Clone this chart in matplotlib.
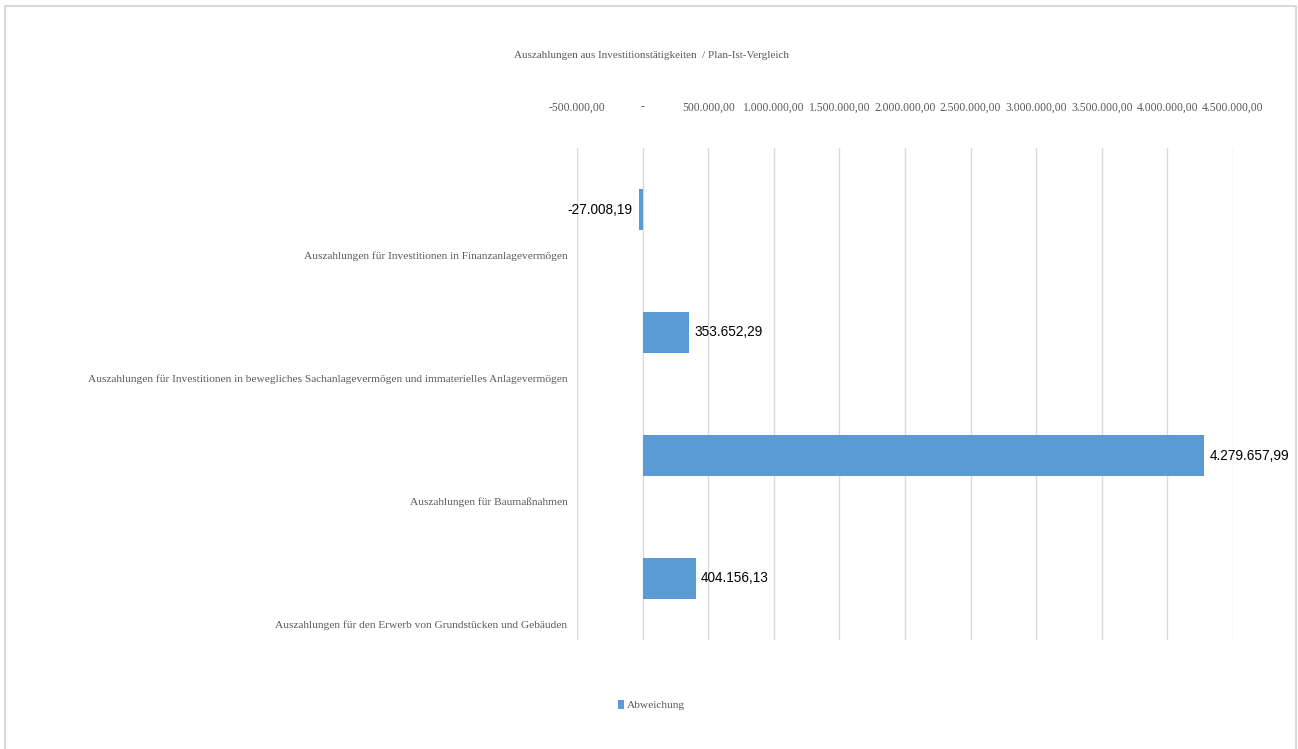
import matplotlib
matplotlib.use("Agg")
import matplotlib.pyplot as plt
from matplotlib.patches import Rectangle
from matplotlib.ticker import FuncFormatter

categories = [
    "Auszahlungen für Investitionen in Finanzanlagevermögen",
    "Auszahlungen für Investitionen in bewegliches Sachanlagevermögen und immaterielles Anlagevermögen",
    "Auszahlungen für Baumaßnahmen",
    "Auszahlungen für den Erwerb von Grundstücken und Gebäuden",
]
abweichung = [-27008.19, 353652.29, 4279657.99, 404156.13]
x_ticks = [-500000, 0, 500000, 1000000, 1500000, 2000000, 2500000, 3000000, 3500000, 4000000, 4500000]

title = "Auszahlungen aus Investitionstätigkeiten  / Plan-Ist-Vergleich"
serif = ["Liberation Serif", "DejaVu Serif"]
sans = ["Liberation Sans", "DejaVu Sans"]
grey = "#595959"
bar_color = "#5B9BD5"


def de_num(v):
    s = f"{abs(v):,.2f}".replace(",", "X").replace(".", ",").replace("X", ".")
    return ("-" if v < 0 else "") + s


def tick_fmt(v, pos):
    if v == 0:
        return "-"
    return de_num(v)


fig = plt.figure(figsize=(12.98, 7.49), dpi=100)
ax = fig.add_axes([577 / 1298, 1 - 640 / 749, (1233 - 577) / 1298, (640 - 148) / 749])

ypos = list(range(len(categories)))
ax.barh(ypos, abweichung, height=0.34, color=bar_color, zorder=3, label="Abweichung")
ax.set_xlim(-500000, 4500000)
ax.set_ylim(len(categories) - 0.5, -0.5)

ax.set_xticks(x_ticks)
ax.xaxis.set_major_formatter(FuncFormatter(tick_fmt))
ax.xaxis.tick_top()
ax.tick_params(axis="x", length=0, pad=25, labelsize=8.4, labelcolor=grey)
for lab in ax.get_xticklabels():
    lab.set_family(serif)

# category labels sit below the bar in each band
ax.set_yticks([y + 0.37 for y in ypos])
ax.set_yticklabels(categories, family=serif, fontsize=8.2, color=grey)
ax.tick_params(axis="y", length=0, pad=7)

ax.grid(axis="x", color="#d9d9d9", lw=1, zorder=0)
for s in ax.spines.values():
    s.set_visible(False)

for y, v in zip(ypos, abweichung):
    if v < 0:
        ax.annotate(de_num(v), (v, y), xytext=(-5, 0), textcoords="offset points",
                    ha="right", va="center", fontsize=9.8, family=sans)
    else:
        ax.annotate(de_num(v), (v, y), xytext=(4, 0), textcoords="offset points",
                    ha="left", va="center", fontsize=9.8, family=sans)

fig.text(0.502, 1 - 55 / 749, title, ha="center", va="center", fontsize=8,
         color=grey, family=serif)

leg = fig.legend(loc="center", bbox_to_anchor=(0.502, 1 - 705 / 749), frameon=False,
                 handlelength=0.5, handleheight=0.9, handletextpad=0.25,
                 prop={"family": serif, "size": 8.2})
for t in leg.get_texts():
    t.set_color(grey)

fig.patches.append(Rectangle((5 / 1298, -0.02), 1291 / 1298, 1.02 - 6 / 749,
                             transform=fig.transFigure, fill=False,
                             edgecolor="#d9d9d9", lw=1.5))

fig.savefig("out.png", dpi=100)
